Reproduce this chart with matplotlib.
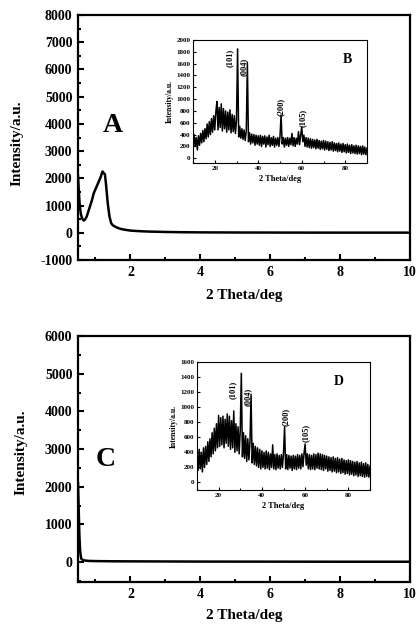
import numpy as np
import matplotlib
matplotlib.use("Agg")
import matplotlib.pyplot as plt
from matplotlib.ticker import MultipleLocator

plt.rcParams['font.family'] = ['Liberation Serif', 'DejaVu Serif']
plt.rcParams['font.weight'] = 'bold'
plt.rcParams['axes.unicode_minus'] = False

# ---------------- data ----------------
# Panel A (low-angle XRD)
a_theta = [0.50, 0.52, 0.55, 0.58, 0.62, 0.66, 0.70, 0.75, 0.80, 0.85, 0.90, 0.95,
           1.00, 1.05, 1.10, 1.15, 1.20, 1.23, 1.27, 1.30, 1.35, 1.40, 1.45, 1.50,
           1.60, 1.70, 1.80, 2.00, 2.25, 2.50, 3.00, 3.50, 4.00, 5.00, 6.00, 7.00,
           8.00, 9.00, 10.00]
a_int = [2100, 1600, 1000, 700, 520, 450, 480, 600, 800, 1000, 1200, 1450,
         1600, 1750, 1900, 2050, 2250, 2200, 2150, 1800, 1100, 600, 350, 270,
         200, 150, 120, 80, 60, 45, 30, 20, 15, 10, 8, 6,
         5, 5, 5]

# Panel C (low-angle XRD)
c_theta = [0.50, 0.52, 0.54, 0.56, 0.58, 0.60, 0.65, 0.70, 0.80, 1.00, 1.50, 2.00,
           3.00, 4.00, 6.00, 8.00, 10.00]
c_int = [2100, 1400, 700, 300, 150, 80, 50, 40, 30, 25, 20, 18,
         15, 12, 10, 8, 8]

# Insets: wide-angle XRD, 2theta from 10 to 90 deg in 0.5 deg steps
wide_start = 10.0
wide_step = 0.5
b_int = [160, 400, 200, 350, 140, 380, 220, 420, 260, 470, 280, 500, 330, 580, 360, 620,
         400, 670, 440, 720, 480,
         780, 960, 480, 860, 520, 920, 460, 840, 500, 800, 440, 780, 480, 820, 430, 740,
         450, 720, 420, 640, 1850, 360, 540, 340, 500, 320, 480, 300, 460, 1620, 280,
         430, 240, 410, 260, 400, 220, 390, 240, 380, 220, 390, 200, 370, 240, 380, 190,
         360, 230, 390, 200, 350, 220, 370, 190, 340, 220, 350, 200, 370, 730, 240, 350,
         190, 340, 220, 350, 200, 340, 230, 420, 210, 350, 200, 340, 240, 450, 230, 390,
         530, 280, 390, 200, 350, 190, 340, 180, 330, 170, 320, 180, 310, 160, 320, 170,
         300, 150, 290, 160, 300, 140, 290, 150, 280, 130, 270, 140, 280, 120, 260, 130,
         250, 110, 260, 120, 240, 100, 250, 110, 230, 90, 240, 100, 220, 80, 230, 90,
         210, 80, 220, 70, 210, 80, 200, 60, 210, 70, 190, 60, 170]
d_int = [320, 160, 440, 180, 400, 140, 460, 200, 480, 240, 540, 280, 580, 340, 660, 380,
         720, 420, 780, 460, 890, 480, 860, 500, 880, 460, 840, 520, 910, 480, 880, 440,
         820, 460, 950, 400, 780, 420, 740, 380, 700, 1450, 340, 660, 320, 620, 280, 580,
         300, 540, 1170, 260, 520, 240, 480, 220, 460, 200, 440, 180, 420, 200, 400, 180,
         420, 190, 400, 170, 380, 200, 500, 180, 370, 170, 380, 190, 360, 180, 370, 200,
         390, 740, 180, 370, 170, 360, 190, 350, 160, 360, 180, 350, 170, 370, 190, 360,
         180, 380, 210, 390, 510, 230, 380, 180, 370, 170, 360, 180, 380, 170, 370, 190,
         390, 180, 380, 170, 370, 160, 360, 180, 350, 150, 340, 160, 330, 140, 340, 150,
         320, 130, 330, 140, 310, 120, 320, 130, 300, 110, 290, 120, 300, 100, 290, 110,
         280, 90, 270, 100, 280, 80, 260, 90, 270, 80, 250, 70, 260, 80, 240, 70, 220]

peak_labels = ['(101)', '(004)', '(200)', '(105)']
b_label_pos = [(27.0, 1700), (33.4, 1545), (50.5, 870), (60.6, 680)]
d_label_pos = [(26.6, 1230), (33.6, 1135), (51.2, 870), (60.4, 657)]

main_xticks = [2, 4, 6, 8, 10]

# ---------------- figure ----------------
W, H = 416, 624
fig = plt.figure(figsize=(W / 100, H / 100), dpi=100)


def fx(px):
    return px / W


def fy(py):
    return 1 - py / H


def main_axes(rect, ylim, yticks):
    ax = fig.add_axes(rect)
    ax.set_xlim(0.5, 10)
    ax.set_ylim(*ylim)
    ax.set_xticks(main_xticks)
    ax.xaxis.set_minor_locator(MultipleLocator(1))
    ax.set_yticks(yticks)
    ax.yaxis.set_minor_locator(MultipleLocator(500))
    ax.tick_params(which='both', direction='in', width=1.5, labelsize=10, pad=4)
    ax.tick_params(which='major', length=4)
    ax.tick_params(which='minor', length=2.5)
    ax.tick_params(axis='x', which='both', top=False)
    ax.tick_params(axis='y', which='both', right=False)
    for s in ax.spines.values():
        s.set_linewidth(1.6)
    for lab in ax.get_xticklabels() + ax.get_yticklabels():
        lab.set_fontweight('bold')
    return ax


def inset_axes(rect, ylim, yticks, xs, ys, lpos, letter, letter_pos):
    ax = fig.add_axes(rect)
    ax.plot(xs, ys, color='black', lw=1.1)
    ax.set_xlim(10, 90)
    ax.set_ylim(*ylim)
    ax.set_xticks([20, 40, 60, 80])
    ax.xaxis.set_minor_locator(MultipleLocator(10))
    ax.set_yticks(yticks)
    ax.tick_params(which='both', direction='in', width=0.8, labelsize=5, pad=2)
    ax.tick_params(which='major', length=2.5)
    ax.tick_params(which='minor', length=1.5)
    ax.tick_params(axis='x', which='both', top=False)
    ax.tick_params(axis='y', which='both', right=False)
    for s in ax.spines.values():
        s.set_linewidth(0.8)
    for lab in ax.get_xticklabels() + ax.get_yticklabels():
        lab.set_fontweight('bold')
    ax.set_ylabel('Intensity/a.u.', fontsize=5.5, fontweight='bold', labelpad=2)
    ax.set_xlabel('2 Theta/deg', fontsize=6, fontweight='bold', labelpad=3)
    for lab, (px, py) in zip(peak_labels, lpos):
        ax.text(px, py, lab, rotation=90, fontsize=6, fontweight='bold',
                ha='center', va='center')
    ax.text(letter_pos[0], letter_pos[1], letter, transform=ax.transAxes,
            fontsize=10, fontweight='bold', ha='center', va='center')
    return ax


# ----- top panel -----
axA = main_axes([fx(78), fy(260), fx(410) - fx(78), fy(15) - fy(260)],
                (-1000, 8000), list(range(-1000, 8001, 1000)))
axA.plot(a_theta, a_int, color='black', lw=1.8)
fig.text(fx(17), fy(143), 'Intensity/a.u.', rotation=90, fontsize=11,
         fontweight='bold', ha='center', va='center')
fig.text(fx(244), fy(296), '2 Theta/deg', fontsize=11, fontweight='bold',
         ha='center', va='center')
fig.text(fx(113), fy(125), 'A', fontsize=20, fontweight='bold',
         ha='center', va='center')

wide_x = wide_start + wide_step * np.arange(len(b_int))
inset_axes([fx(193), fy(163), fx(367) - fx(193), fy(40) - fy(163)],
           (-80, 2000), list(range(0, 2001, 200)), wide_x, b_int,
           b_label_pos, 'B', (0.885, 0.845))

# ----- bottom panel -----
axC = main_axes([fx(78), fy(582), fx(410) - fx(78), fy(336) - fy(582)],
                (-530, 6000), list(range(0, 6001, 1000)))
axC.plot(c_theta, c_int, color='black', lw=1.8)
fig.text(fx(21), fy(452), 'Intensity/a.u.', rotation=90, fontsize=11,
         fontweight='bold', ha='center', va='center')
fig.text(fx(244), fy(616), '2 Theta/deg', fontsize=11, fontweight='bold',
         ha='center', va='center')
fig.text(fx(106), fy(460), 'C', fontsize=20, fontweight='bold',
         ha='center', va='center')

wide_xd = wide_start + wide_step * np.arange(len(d_int))
inset_axes([fx(197), fy(490), fx(370) - fx(197), fy(362) - fy(490)],
           (-100, 1600), list(range(0, 1601, 200)), wide_xd, d_int,
           d_label_pos, 'D', (0.82, 0.85))

fig.savefig('out.png', dpi=100)
